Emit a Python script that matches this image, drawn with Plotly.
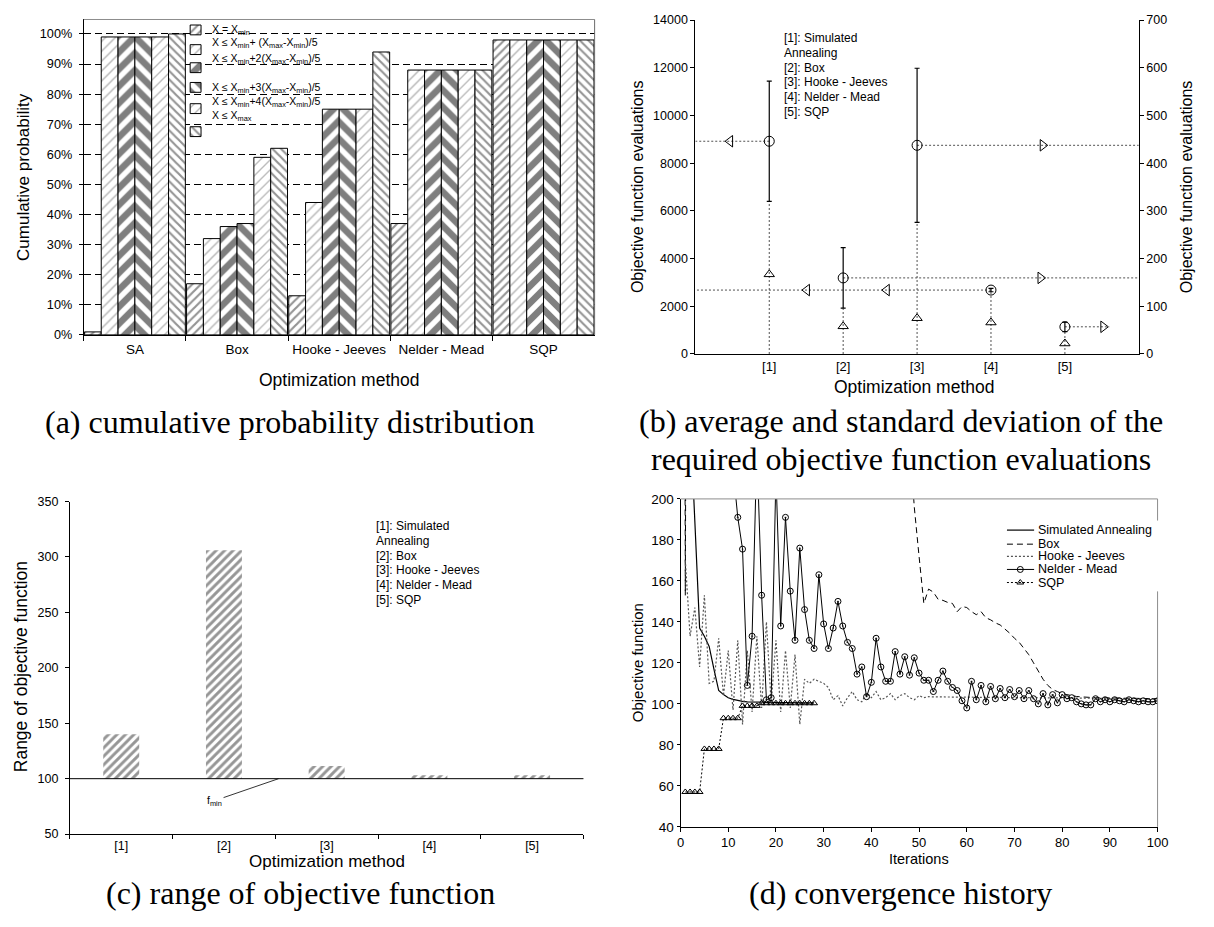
import plotly.graph_objects as go

W, H = 1214, 927
SANS = "Liberation Sans, Arial, sans-serif"
SERIF = "Liberation Serif, Times New Roman, serif"

# ---------------- (a) cumulative probability distribution ----------------
methods_a = ["SA", "Box", "Hooke - Jeeves", "Nelder - Mead", "SQP"]
class_labels = [
    "X = X<sub>min</sub>",
    "X ≤ X<sub>min</sub>+ (X<sub>max</sub>-X<sub>min</sub>)/5",
    "X ≤ X<sub>min</sub>+2(X<sub>max</sub>-X<sub>min</sub>)/5",
    "X ≤ X<sub>min</sub>+3(X<sub>max</sub>-X<sub>min</sub>)/5",
    "X ≤ X<sub>min</sub>+4(X<sub>max</sub>-X<sub>min</sub>)/5",
    "X ≤ X<sub>max</sub>",
]
cum_eq_min = [0.01, 0.17, 0.13, 0.37, 0.98]
cum_le_1 = [0.99, 0.32, 0.44, 0.88, 0.98]
cum_le_2 = [0.99, 0.36, 0.75, 0.88, 0.98]
cum_le_3 = [0.99, 0.37, 0.75, 0.88, 0.98]
cum_le_4 = [0.99, 0.59, 0.75, 0.88, 0.98]
cum_le_max = [1.00, 0.62, 0.94, 0.88, 0.98]

# ---------------- (b) evaluations: mean and std ----------------
methods_b = ["[1]", "[2]", "[3]", "[4]", "[5]"]
method_names = ["Simulated Annealing", "Box", "Hooke - Jeeves", "Nelder - Mead", "SQP"]
legend_lines = ["[1]: Simulated", "Annealing", "[2]: Box", "[3]: Hooke - Jeeves",
                "[4]: Nelder - Mead", "[5]: SQP"]
eval_mean = [8920, 3190, 8750, 2680, 1140]
eval_std = [2520, 1270, 3230, 70, 200]
eval_tri_right = [167, 58, 75, 66, 22]
guide_end = [0, 6, 6, 0, 5.6]
guide_arrows = [[0.47], [4.67], [4.70], [1.51, 2.59], [5.52]]

# ---------------- (c) range of objective function ----------------
range_max = [140, 306, 111.5, 103, 103]
f_min = 100

# ---------------- (d) convergence history ----------------
iter_sa = list(range(1, 29))
obj_sa = [320, 240, 189, 137, 133, 128, 117, 106.5, 104.5, 103,
          102.2, 101.6, 101.2, 101, 100.9, 100.8, 100.8, 100.7, 100.7, 100.6,
          100.6, 100.6, 100.5, 100.5, 100.5, 100.5, 100.5, 100.5]
iter_box = list(range(0, 101))
obj_box = ([1200, 153, 900] + [None] * 45 +
           [230, 196, 172, 149, 156, 154.5, 151, 150.5, 149.5, 149,
            145, 147.5, 147, 145, 143.5, 145, 142, 141, 139.5, 138.5,
            136.5, 134.5, 132, 130, 127, 124, 120, 116, 112, 109,
            107, 106, 105, 104.5, 104, 103.6, 103.4, 103.2, 103.1, 103,
            103, 102.9, 102.9, 102.8, 102.8, 102.7, 102.7, 102.7, 102.6, 102.6,
            102.6, 102.5, 102.5])
iter_hj = list(range(1, 101))
obj_hj = [170, 133, 147, 118, 153, 110, 111, 132, 104, 126,
          97, 131, 90, 126, 96, 133, 98, 140, 100, 131,
          96, 126, 98, 124, 90, 112, 110, 112, 111, 110,
          108, 102, 104, 99, 103, 106, 102, 101, 105, 103,
          106, 102, 103, 105, 102, 104, 105, 103, 102, 104,
          103, 103.5, 103.4, 103.4, 103.3, 103.3, 103.3, 103.2, 103.2, 103.2,
          103.3, 103.1, 103.2, 103.1, 103.2, 103.1, 103.1, 103.1, 103.0, 103.1,
          103.0, 103.1, 103.0, 103.0, 103.0, 102.9, 103.0, 102.9, 102.9, 102.9,
          102.9, 102.8, 102.8, 102.8, 102.8, 102.7, 102.7, 102.7, 102.7, 102.6,
          102.6, 102.6, 102.6, 102.6, 102.5, 102.5, 102.5, 102.5, 102.5, 102.5]
iter_nm = list(range(11, 101))
obj_nm = [215, 191, 175.5, 109, 133, 225, 153, 102, 103, 212,
          138, 191, 155, 131, 176, 146, 131, 127, 163, 139,
          127, 137, 150, 138, 130, 127, 114.5, 118, 103.5, 110.5,
          132, 118, 111, 111, 125.5, 114.5, 123, 114, 122.5, 115,
          111.5, 111.5, 106, 111.5, 116, 111, 108, 106.5, 101.5, 98,
          111, 102, 109, 101, 108.5, 102.5, 107.5, 103, 107, 103.5,
          106.5, 102.5, 106.5, 102.5, 100, 105, 99.5, 104.5, 100.5, 104.5,
          102.5, 103, 101, 100, 99.5, 99.5, 102.5, 101, 102, 101,
          102, 101.5, 101, 102, 101.5, 101, 101.5, 101, 101, 101.5]
iter_sqp = list(range(1, 29))
obj_sqp = [57, 57, 57, 57, 78, 78, 78, 78, 93, 93, 93, 93, 99, 99, 99, 99,
           100.3, 100.3, 100.3, 100.3, 100.3, 100.3, 100.3, 100.3, 100.3, 100.3, 100.3, 100.3]


def fx(p):
    return p / W


def fy(p):
    return 1 - p / H


fig = go.Figure()

# ---------- (a) bars ----------
cum_series = [cum_eq_min, cum_le_1, cum_le_2, cum_le_3, cum_le_4, cum_le_max]
patterns = [
    dict(shape="/", size=6, solidity=0.36, fgcolor="#2a2a2a"),
    dict(shape="/", size=7, solidity=0.2, fgcolor="#6a6a6a"),
    dict(shape="/", size=12, solidity=0.55, fgcolor="#000000"),
    dict(shape="\\", size=12, solidity=0.55, fgcolor="#000000"),
    dict(shape="/", size=7, solidity=0.2, fgcolor="#7a7a7a"),
    dict(shape="\\", size=6, solidity=0.36, fgcolor="#2a2a2a"),
]
for vals, pat, name in zip(cum_series, patterns, class_labels):
    fig.add_trace(go.Bar(
        x=methods_a, y=vals, name=name, xaxis="x", yaxis="y",
        marker=dict(color="white", line=dict(color="black", width=1),
                    pattern=dict(fillmode="overlay", **pat)),
        hoverinfo="skip"))

# legend icons of (a), drawn on a pixel overlay axis
icon_y = [23.3, 43.3, 61.7, 81.7, 103.3, 126.7]
for pat, yc in zip(patterns, icon_y):
    fig.add_trace(go.Bar(
        x=[194], y=[10], base=[yc - 5], width=[11], offset=-5.5,
        xaxis="x6", yaxis="y6",
        marker=dict(color="white", line=dict(color="black", width=1),
                    pattern=dict(fillmode="overlay", **pat)),
        hoverinfo="skip"))

# ---------- (b) ----------
pos_b = list(range(1, len(methods_b) + 1))
dx, dy = [], []
for p, m, s in zip(pos_b, eval_mean, eval_std):
    dx += [p, p, None]
    dy += [0, m - s, None]
fig.add_trace(go.Scatter(x=dx, y=dy, mode="lines", xaxis="x2", yaxis="y2",
                         line=dict(color="#505050", width=1, dash="2px,2px"), hoverinfo="skip"))
gx, gy = [], []
for p, m, e in zip(pos_b, eval_mean, guide_end):
    gx += [p, e, None]
    gy += [m, m, None]
fig.add_trace(go.Scatter(x=gx, y=gy, mode="lines", xaxis="x2", yaxis="y2",
                         line=dict(color="#505050", width=1, dash="2px,2px"), hoverinfo="skip"))
ax_, ay_, sym = [], [], []
for p, m, e, arr in zip(pos_b, eval_mean, guide_end, guide_arrows):
    for a in arr:
        ax_.append(a)
        ay_.append(m)
        sym.append("triangle-left-open" if e < p else "triangle-right-open")
fig.add_trace(go.Scatter(x=ax_, y=ay_, mode="markers", xaxis="x2", yaxis="y2",
                         marker=dict(symbol=sym, size=10, color="black",
                                     line=dict(color="black", width=1)), hoverinfo="skip"))
fig.add_trace(go.Scatter(
    x=pos_b, y=eval_mean, mode="markers", xaxis="x2", yaxis="y2",
    marker=dict(symbol="circle-open", size=10, color="black", line=dict(color="black", width=1)),
    error_y=dict(type="data", array=eval_std, color="black", thickness=1.2, width=2.5),
    hoverinfo="skip"))
fig.add_trace(go.Scatter(
    x=pos_b, y=eval_tri_right, mode="markers", xaxis="x2", yaxis="y3",
    marker=dict(symbol="triangle-up-open", size=9, color="black", line=dict(color="black", width=1)),
    hoverinfo="skip"))

# ---------- (c) ----------
fig.add_trace(go.Bar(
    x=methods_b, y=[v - f_min for v in range_max], base=f_min, width=0.35,
    xaxis="x4", yaxis="y4",
    marker=dict(color="white", line=dict(width=0),
                pattern=dict(fillmode="overlay", shape="/", size=6, solidity=0.48, fgcolor="#2e2e2e")),
    hoverinfo="skip"))

# ---------- (d) ----------
styles_d = [
    dict(line=dict(color="black", width=1.2), mode="lines"),
    dict(line=dict(color="black", width=1, dash="6px,4px"), mode="lines"),
    dict(line=dict(color="#555555", width=1.2, dash="2px,2px"), mode="lines"),
    dict(line=dict(color="black", width=1), mode="lines+markers",
         marker=dict(symbol="circle-open-dot", size=6, color="black", line=dict(color="black", width=1))),
    dict(line=dict(color="black", width=1, dash="2px,2px"), mode="lines+markers",
         marker=dict(symbol="triangle-up-open", size=6, color="black", line=dict(color="black", width=1))),
]
series_d = [(iter_sa, obj_sa), (iter_box, obj_box), (iter_hj, obj_hj), (iter_nm, obj_nm), (iter_sqp, obj_sqp)]
for (xs, ys), st, nm in zip(series_d, styles_d, method_names):
    fig.add_trace(go.Scatter(x=xs, y=ys, name=nm, xaxis="x5", yaxis="y5",
                             connectgaps=False, hoverinfo="skip", **st))

# legend samples of (d) on pixel overlay axis
leg_d_y = [531.7, 546, 558.5, 571.7, 585]
for st, yc in zip(styles_d, leg_d_y):
    fig.add_trace(go.Scatter(x=[1015.5, 1043], y=[yc, yc], mode="lines", line=st["line"],
                             xaxis="x6", yaxis="y6", hoverinfo="skip"))
    if "marker" in st:
        fig.add_trace(go.Scatter(x=[1029], y=[yc], mode="markers", marker=st["marker"],
                                 xaxis="x6", yaxis="y6", hoverinfo="skip"))

# ---------- annotations ----------
ann = []


def text(px, py, t, size=12, xanchor="center", angle=0, family=SANS):
    ann.append(dict(x=fx(px), y=fy(py), xref="paper", yref="paper", text=t, showarrow=False,
                    xanchor=xanchor, yanchor="middle", textangle=angle,
                    font=dict(family=family, size=size, color="black")))


# (a) legend texts
text_y = [23, 36.5, 52.5, 82, 96.7, 111]
for t, yc in zip(class_labels, text_y):
    text(208.5, yc, t, size=10.5, xanchor="left")
# (b) and (c) legend texts
for i, t in enumerate(legend_lines):
    text(788, 31.7 + 15 * i, t, size=12, xanchor="left")
    text(375, 527.7 + 15 * i, t, size=12, xanchor="left")
# (d) legend texts
for t, yc in zip(method_names, leg_d_y):
    text(1045, yc, t, size=12.5, xanchor="left")

# axis titles
text(19, 173, "Cumulative probability", size=17, angle=-90)
text(339.5, 379, "Optimization method", size=17.5)
text(641, 183, "Objective function evaluations", size=16, angle=-90)
text(1197, 183, "Objective function evaluations", size=16, angle=-90)
text(922, 386.7, "Optimization method", size=17.5)
text(17.3, 671, "Range of objective function", size=17.5, angle=-90)
text(327, 869, "Optimization method", size=17)
text(641, 667, "Objective function", size=15, angle=-90)
text(926.5, 866, "Iterations", size=14.5)

# captions
text(290, 422, "(a) cumulative probability distribution", size=32, family=SERIF)
text(908, 421, "(b) average and standard deviation of the", size=32, family=SERIF)
text(908, 459, "required objective function evaluations", size=32, family=SERIF)
text(300, 901, "(c) range of objective function", size=32, family=SERIF)
text(908, 901, "(d) convergence history", size=32, family=SERIF)

# f_min pointer
ann.append(dict(x=fx(278), y=f_min, xref="paper", yref="y4", text="f<sub>min</sub>",
                showarrow=True, arrowhead=0, arrowwidth=0.8, arrowcolor="black",
                ax=-64, ay=22, standoff=0, font=dict(family=SANS, size=10.5, color="black")))

# ---------- shapes ----------
shapes = [
    dict(type="line", xref="x domain", yref="y domain", x0=0, x1=1, y0=1, y1=1,
         line=dict(color="#8c8c8c", width=1)),
    dict(type="line", xref="x domain", yref="y domain", x0=1, x1=1, y0=0, y1=1,
         line=dict(color="#6a6a6a", width=1)),
    dict(type="line", xref="x4 domain", yref="y4", x0=0, x1=1, y0=f_min, y1=f_min,
         line=dict(color="black", width=1)),
    dict(type="line", xref="x5 domain", yref="y5 domain", x0=0, x1=1, y0=1, y1=1,
         line=dict(color="#8c8c8c", width=1)),
    dict(type="line", xref="paper", yref="paper", x0=fx(1168), x1=fx(1168), y0=fy(500), y1=fy(522),
         line=dict(color="#8c8c8c", width=1)),
    dict(type="line", xref="paper", yref="paper", x0=fx(1168), x1=fx(1168), y0=fy(594), y1=fy(833.3),
         line=dict(color="#8c8c8c", width=1)),
]


def ax_style(size):
    return dict(showline=True, linecolor="black", linewidth=1, tickcolor="black",
                showgrid=False, zeroline=False, fixedrange=True,
                tickfont=dict(family=SANS, size=size, color="black"))


fig.update_layout(
    width=W, height=H, autosize=False, margin=dict(l=0, r=0, t=0, b=0),
    paper_bgcolor="white", plot_bgcolor="rgba(0,0,0,0)",
    showlegend=False, barmode="group", bargap=0.012, bargroupgap=0,
    font=dict(family=SANS, size=12, color="black"),
    xaxis=dict(domain=[fx(80.8), fx(598)], anchor="y", type="category", range=[-0.5, 4.5],
               ticks="outside", ticklen=5, tickson="boundaries", ticklabelstandoff=2, tickangle=0,
               **ax_style(13.5)),
    yaxis=dict(domain=[fy(333.3), fy(12.7)], anchor="x", range=[0, 1.048], dtick=0.1, tick0=0,
               tickformat=".0%", ticks="outside", ticklen=4, ticklabelstandoff=4,
               **{**ax_style(12.7), "showgrid": True}, gridcolor="black", griddash="7px,4px", gridwidth=1),
    xaxis2=dict(domain=[fx(700), fx(1149)], anchor="y2", range=[0, 6], tickvals=pos_b,
                ticktext=methods_b, ticks="", tickangle=0, **ax_style(13)),
    yaxis2=dict(domain=[fy(352.7), fy(13.3)], anchor="x2", range=[0, 14000], dtick=2000,
                tickformat="d", ticks="outside", ticklen=4, **ax_style(12.5)),
    yaxis3=dict(overlaying="y2", side="right", anchor="x2", range=[0, 700], dtick=100,
                tickformat="d", ticks="outside", ticklen=4, **ax_style(12.5)),
    xaxis4=dict(domain=[fx(66.7), fx(586.7)], anchor="y4", type="category", range=[-0.5, 4.5],
                ticks="outside", ticklen=4, tickson="boundaries", tickangle=0, **ax_style(12.5)),
    yaxis4=dict(domain=[fy(840.7), fy(502.7)], anchor="x4", range=[50, 350], dtick=50,
                ticks="outside", ticklen=4, ticklabelstandoff=4, **ax_style(12.5)),
    xaxis5=dict(domain=[fx(685), fx(1168)], anchor="y5", range=[0, 100], dtick=10,
                ticks="outside", ticklen=4, tickangle=0, **ax_style(13)),
    yaxis5=dict(domain=[fy(833.3), fy(500)], anchor="x5", range=[40, 200], dtick=20,
                ticks="outside", ticklen=3, **ax_style(13.5)),
    xaxis6=dict(domain=[0, 1], anchor="y6", range=[0, W], visible=False, fixedrange=True),
    yaxis6=dict(domain=[0, 1], anchor="x6", range=[H, 0], visible=False, fixedrange=True),
    annotations=ann, shapes=shapes,
)

fig.write_html("out.html")
